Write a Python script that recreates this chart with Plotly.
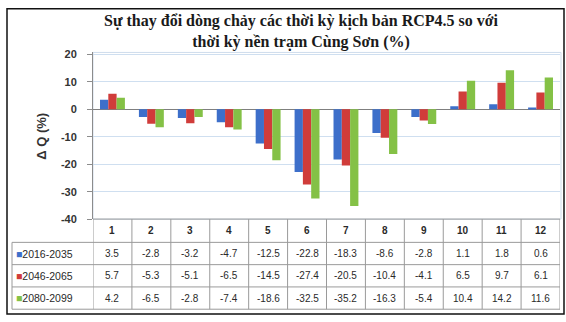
import plotly.graph_objects as go

# Monthly change in streamflow (%) at Cung Son, RCP4.5, vs. baseline
months = ["1", "2", "3", "4", "5", "6", "7", "8", "9", "10", "11", "12"]
periods = ["2016-2035", "2046-2065", "2080-2099"]
p2016_2035 = [3.5, -2.8, -3.2, -4.7, -12.5, -22.8, -18.3, -8.6, -2.8, 1.1, 1.8, 0.6]
p2046_2065 = [5.7, -5.3, -5.1, -6.5, -14.5, -27.4, -20.5, -10.4, -4.1, 6.5, 9.7, 6.1]
p2080_2099 = [4.2, -6.5, -2.8, -7.4, -18.6, -32.5, -35.2, -16.3, -5.4, 10.4, 14.2, 11.6]
y_ticks = [-40, -30, -20, -10, 0, 10, 20]

series = [p2016_2035, p2046_2065, p2080_2099]
colors = ["#3d6fca", "#d03c3a", "#84c146"]

W, H = 566, 322


def px(x):
    return x / W


def py(y):
    return 1 - y / H


plot_left, plot_right = 93, 560
plot_top, plot_bottom = 50, 222
row_edges = [222, 246, 269, 292, 315]
legend_left = 12

fig = go.Figure()
for name, vals, col in zip(periods, series, colors):
    fig.add_trace(go.Bar(x=list(range(len(months))), y=vals, name=name,
                         marker=dict(color=col, line=dict(width=0))))

shapes = []
# outer frame
shapes.append(dict(type="rect", xref="paper", yref="paper",
                   x0=px(7), x1=px(564), y0=py(320), y1=py(5),
                   line=dict(color="#111111", width=1.5)))
# plot area border
shapes.append(dict(type="rect", xref="paper", yref="paper",
                   x0=px(plot_left), x1=px(plot_right + 1), y0=py(plot_bottom), y1=py(plot_top),
                   line=dict(color="#cfdcec", width=1), layer="below"))

grid_col = "#9a9a9a"
# table horizontal lines
for i, yy in enumerate(row_edges):
    x0 = plot_left if i == 0 else legend_left
    shapes.append(dict(type="line", xref="paper", yref="paper",
                       x0=px(x0), x1=px(plot_right), y0=py(yy), y1=py(yy),
                       line=dict(color=grid_col, width=1)))
# legend column left edge
shapes.append(dict(type="line", xref="paper", yref="paper",
                   x0=px(legend_left), x1=px(legend_left), y0=py(row_edges[1]), y1=py(row_edges[-1]),
                   line=dict(color=grid_col, width=1)))
# column separators between months
for k in range(len(months) + 1):
    shapes.append(dict(type="line", xref="x", yref="paper",
                       x0=k - 0.5, x1=k - 0.5, y0=py(row_edges[0]), y1=py(row_edges[-1]),
                       line=dict(color=grid_col, width=1)))

annotations = []
# title
annotations.append(dict(text="<b>Sự thay đổi dòng chảy các thời kỳ kịch bản RCP4.5 so với<br>thời kỳ nền trạm Cùng Sơn (%)</b>",
                        xref="paper", yref="paper", x=px(301), y=py(28),
                        xanchor="center", yanchor="middle", showarrow=False,
                        font=dict(family="Liberation Serif", size=16, color="#1a1a1a")))
# y axis title
annotations.append(dict(text="<b>Δ Q (%)</b>", xref="paper", yref="paper",
                        x=px(42), y=py(137), textangle=-90, showarrow=False,
                        xanchor="center", yanchor="middle",
                        font=dict(family="Liberation Sans", size=13, color="#333333")))

cell_font = dict(family="Liberation Sans", size=10, color="#2a2a2a")
# header row: month numbers
for k, m in enumerate(months):
    annotations.append(dict(text="<b>" + m + "</b>", xref="x", yref="paper", x=k,
                            y=py((row_edges[0] + row_edges[1]) / 2), showarrow=False,
                            xanchor="center", yanchor="middle", font=cell_font))
# data rows
for r, (name, vals, col) in enumerate(zip(periods, series, colors)):
    yc = py((row_edges[r + 1] + row_edges[r + 2]) / 2)
    annotations.append(dict(text="<span style='color:%s'>■</span>%s" % (col, name),
                            xref="paper", yref="paper", x=px(legend_left + 2), y=yc,
                            showarrow=False, xanchor="left", yanchor="middle",
                            font=dict(family="Liberation Sans", size=10.5, color="#2a2a2a")))
    for k, v in enumerate(vals):
        annotations.append(dict(text="%.1f" % v, xref="x", yref="paper", x=k, y=yc,
                                showarrow=False, xanchor="center", yanchor="middle",
                                font=cell_font))

fig.update_layout(
    width=W, height=H,
    margin=dict(l=0, r=0, t=0, b=0),
    paper_bgcolor="white", plot_bgcolor="white",
    barmode="group", bargap=0.36, bargroupgap=0,
    showlegend=False,
    shapes=shapes, annotations=annotations,
    xaxis=dict(domain=[px(plot_left), px(plot_right)], range=[-0.5, len(months) - 0.5],
               showticklabels=False, showgrid=False, zeroline=False, ticks=""),
    yaxis=dict(domain=[py(plot_bottom), py(plot_top)], range=[-40, 20.7],
               tickvals=y_ticks, ticktext=["<b>%d</b>" % t for t in y_ticks],
               showgrid=True, gridcolor="#cfdff0", gridwidth=1,
               zeroline=True, zerolinecolor="#7f7f7f", zerolinewidth=1,
               showline=True, linecolor="#8c8c8c", linewidth=1,
               ticks="outside", ticklen=5, tickcolor="#8c8c8c", ticklabelstandoff=8,
               tickfont=dict(family="Liberation Sans", size=11, color="#333333")),
)

fig.write_html("out.html")
